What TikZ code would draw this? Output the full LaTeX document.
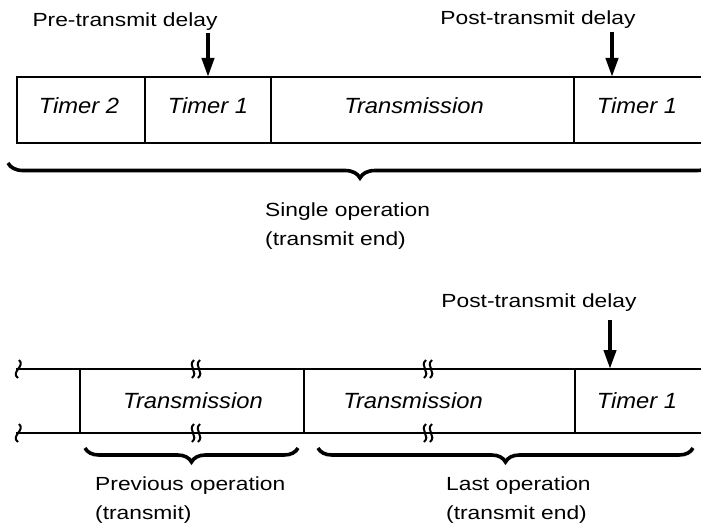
\documentclass[tikz,border=0pt]{standalone}
\usepackage{fontspec}
\setmainfont[FakeStretch=1.2]{Liberation Sans}
\newfontfamily\slotfont[FakeStretch=1.08]{Liberation Sans}
\usetikzlibrary{arrows.meta,decorations.pathreplacing}
\tikzset{
    tlEdge/.style={line width=1.9pt, line cap=rect},
    tlSlot/.style={font=\fontsize{22}{26}\selectfont\slotfont\itshape, anchor=base, inner sep=0pt},
    tlNote/.style={font=\fontsize{19}{29}\selectfont, align=left, inner sep=0pt},
    tlDelay/.style={font=\fontsize{19}{29}\selectfont, anchor=base, inner sep=0pt},
    tlArrow/.style={line width=4pt, -{Triangle[width=12pt,length=19pt]}},
    tlBrace/.style={decorate, decoration={brace, amplitude=#1, aspect=0.5}, line width=3.6pt},
    tlBrace/.default=15pt,
    tlBreak/.style={line width=2pt}
}

\begin{document}
\begin{tikzpicture}[x=1pt, y=-1pt]
    \clip (0,0) rectangle (701,527);

    % Single operation strip
    \draw[tlEdge] (17,77) -- (710,77);
    \draw[tlEdge] (17,143) -- (710,143);
    \foreach \cx in {17,145,271,574}
        \draw[tlEdge] (\cx,77) -- (\cx,143);

    \node[tlSlot] (timerTwo) at (79,113) {Timer 2};
    \node[tlSlot] (timerOneA) at (208,113) {Timer 1};
    \node[tlSlot] (transmitA) at (414,113) {Transmission};
    \node[tlSlot] (timerOneB) at (637,113) {Timer 1};

    \node[tlDelay] (preDelay) at (125,27) {Pre-transmit delay};
    \node[tlDelay] (postDelayA) at (538,25) {Post-transmit delay};
    \coordinate (preTail) at (208,33);
    \coordinate (preTip) at (208,77);
    \coordinate (postTailA) at (612,32);
    \coordinate (postTipA) at (612,77);
    \draw[tlArrow] (preTail) -- (preTip);
    \draw[tlArrow] (postTailA) -- (postTipA);

    \draw[tlBrace] (712,163) -- (8,163);
    \node[tlNote, anchor=west] (singleOp) at (265,226) {Single operation\\(transmit end)};

    % Previous and last operation strip
    \draw[tlEdge] (17,369) -- (710,369);
    \draw[tlEdge] (17,433) -- (710,433);
    \foreach \cx in {80,304,575}
        \draw[tlEdge] (\cx,369) -- (\cx,433);
    \foreach \by in {369,433} {
        \draw[tlBreak] (19,\by-9) .. controls (26,\by-3) and (10,\by+3) .. (18,\by+9);
        \foreach \bx in {193,199,425,431}
            \draw[tlBreak] (\bx+1,\by-9) .. controls (\bx-6,\by-3) and (\bx+6,\by+3) .. (\bx-1,\by+9);
    }

    \node[tlSlot, anchor=center] (transmitB) at (193,401) {Transmission};
    \node[tlSlot, anchor=center] (transmitC) at (413,401) {Transmission};
    \node[tlSlot, anchor=center] (timerOneC) at (637,401) {Timer 1};

    \node[tlDelay] (postDelayB) at (539,307) {Post-transmit delay};
    \coordinate (postTailB) at (610,320);
    \coordinate (postTipB) at (610,369);
    \draw[tlArrow] (postTailB) -- (postTipB);

    \draw[tlBrace=14pt] (298,448) -- (85,448);
    \draw[tlBrace=14pt] (693,448) -- (318,448);
    \node[tlNote, anchor=west] (prevOp) at (95,500) {Previous operation\\(transmit)};
    \node[tlNote, anchor=west] (lastOp) at (446,500) {Last operation\\(transmit end)};
\end{tikzpicture}
\end{document}
